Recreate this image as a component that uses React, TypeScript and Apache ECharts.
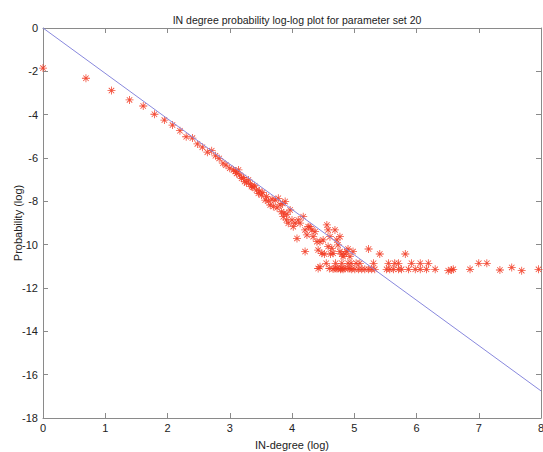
import React, { useEffect, useRef } from "react";
import * as echarts from "echarts";

const titleText = "IN degree probability log-log plot for parameter set 20";
const xAxisName = "IN-degree (log)";
const yAxisName = "Probability (log)";

// fitted reference line (log-log)
const fitLineX = [0, 8];
const fitLineY = [0, -16.75];

// measured points: x = ln(in-degree), y = ln(probability)
const inDegreeLog = [
  0, 0.69, 1.1, 1.39, 1.61, 1.79, 1.95, 2.08, 2.2, 2.3, 2.4, 2.48, 2.56, 2.64, 2.71, 2.77, 2.83, 2.89, 2.94, 3.0,
  3.06, 3.09, 3.11, 3.14, 3.16, 3.19, 3.22, 3.24, 3.27, 3.3, 3.33, 3.35, 3.37, 3.4, 3.43, 3.46, 3.48, 3.51, 3.53, 3.57,
  3.59, 3.62, 3.65, 3.68, 3.7, 3.73, 3.76, 3.78, 3.81, 3.83, 3.85, 3.86, 3.87, 3.89, 3.91, 3.92, 3.94, 3.97, 4.0, 4.02,
  4.05, 4.08, 4.1, 4.13, 4.18, 4.21, 4.21, 4.24, 4.26, 4.29, 4.32, 4.34, 4.37, 4.4, 4.42, 4.42, 4.45, 4.45, 4.48, 4.5,
  4.52, 4.55, 4.56, 4.58, 4.58, 4.6, 4.61, 4.62, 4.64, 4.66, 4.66, 4.69, 4.69, 4.7, 4.72, 4.72, 4.74, 4.74, 4.77, 4.77,
  4.78, 4.8, 4.8, 4.8, 4.82, 4.82, 4.85, 4.85, 4.88, 4.9, 4.9, 4.9, 4.93, 4.93, 4.95, 4.96, 4.98, 5.01, 5.03, 5.07,
  5.09, 5.12, 5.17, 5.23, 5.23, 5.28, 5.31, 5.33, 5.41, 5.52, 5.55, 5.57, 5.63, 5.65, 5.71, 5.71, 5.76, 5.82, 5.87, 5.92,
  5.98, 6.06, 6.06, 6.16, 6.19, 6.3, 6.51, 6.56, 6.59, 6.86, 7.0, 7.13, 7.34, 7.53, 7.69, 7.96,
];
const probabilityLog = [
  -1.85, -2.32, -2.89, -3.32, -3.6, -3.98, -4.25, -4.48, -4.74, -5.02, -5.08, -5.35, -5.5, -5.73, -5.66, -5.9, -6.02, -6.24, -6.33, -6.47,
  -6.55, -6.62, -6.71, -6.55, -6.78, -6.94, -6.9, -7.09, -7.15, -7.01, -7.2, -7.32, -7.35, -7.28, -7.48, -7.63, -7.52, -7.71, -7.6, -7.94,
  -7.78, -7.98, -8.17, -7.9, -8.24, -7.94, -8.3, -7.86, -8.17, -8.48, -8.1, -8.71, -8.55, -8.01, -8.86, -8.6, -9.01, -8.4, -8.86, -9.17,
  -9.0, -9.71, -8.86, -9.01, -8.71, -9.32, -10.32, -9.55, -9.17, -9.17, -9.32, -9.63, -9.4, -9.86, -10.25, -11.1, -11.02, -9.86, -10.4, -9.78,
  -10.43, -10.86, -9.09, -9.32, -10.09, -11.1, -9.63, -10.43, -10.17, -10.4, -11.12, -9.32, -11.1, -10.86, -9.78, -11.1, -10.01, -11.1, -10.32, -9.63,
  -11.14, -10.43, -10.86, -11.1, -10.55, -11.14, -10.43, -11.1, -10.32, -11.1, -10.86, -10.2, -10.55, -11.1, -10.86, -11.14, -10.32, -11.14, -10.86, -11.14,
  -10.86, -11.14, -11.14, -11.14, -10.2, -11.14, -10.86, -11.14, -10.43, -11.14, -10.86, -11.14, -11.14, -10.86, -10.86, -11.14, -11.14, -10.43, -11.14, -10.86,
  -11.14, -11.14, -10.86, -11.14, -10.86, -11.14, -11.2, -11.17, -11.14, -11.14, -10.86, -10.86, -11.17, -11.05, -11.2, -11.14,
];

const asteriskPath =
  "path://M9 0H11V20H9Z M0 9H20V11H0Z M2.5 3.9L3.9 2.5L17.5 16.1L16.1 17.5Z M16.1 2.5L17.5 3.9L3.9 17.5L2.5 16.1Z";

export default function App() {
  const ref = useRef<HTMLDivElement>(null);
  useEffect(() => {
    if (!ref.current) return;
    const chart = echarts.init(ref.current, null, { renderer: "svg" });
    const axisColor = "#8a8a8a";
    const labelStyle = { color: "#222", fontSize: 11, fontFamily: "Liberation Sans, Arial, sans-serif" };
    const baseX = {
      type: "value" as const,
      min: 0,
      max: 8,
      interval: 1,
      splitLine: { show: false },
      axisLine: { show: true, onZero: false, lineStyle: { color: axisColor, width: 1 } },
      axisTick: { show: true, inside: true, length: 5, lineStyle: { color: axisColor } },
    };
    const baseY = {
      type: "value" as const,
      min: -18,
      max: 0,
      interval: 2,
      splitLine: { show: false },
      axisLine: { show: true, onZero: false, lineStyle: { color: axisColor, width: 1 } },
      axisTick: { show: true, inside: true, length: 5, lineStyle: { color: axisColor } },
    };
    chart.setOption({
      animation: false,
      backgroundColor: "#ffffff",
      title: {
        text: titleText,
        left: 292,
        textAlign: "center",
        top: 9,
        textStyle: { fontSize: 10.5, fontWeight: "normal", color: "#222", fontFamily: "Liberation Sans, Arial, sans-serif" },
      },
      grid: { left: 43, right: 2, top: 28, bottom: 34, containLabel: false, outerBoundsMode: "none" },
      xAxis: [
        {
          ...baseX,
          position: "bottom",
          name: xAxisName,
          nameLocation: "middle",
          nameGap: 21,
          nameMoveOverlap: false,
          nameTextStyle: labelStyle,
          axisLabel: { ...labelStyle, margin: 4 },
        },
        { ...baseX, position: "top", axisLabel: { show: false } },
      ],
      yAxis: [
        {
          ...baseY,
          position: "left",
          name: yAxisName,
          nameLocation: "middle",
          nameGap: 20,
          nameMoveOverlap: false,
          nameTextStyle: labelStyle,
          axisLabel: { ...labelStyle, margin: 5 },
        },
        { ...baseY, position: "right", axisLabel: { show: false } },
      ],
      series: [
        {
          type: "line",
          data: fitLineX.map((x, i) => [x, fitLineY[i]]),
          showSymbol: false,
          symbol: "none",
          lineStyle: { color: "#8888dd", width: 1 },
          silent: true,
        },
        {
          type: "scatter",
          data: inDegreeLog.map((x, i) => [x, probabilityLog[i]]),
          symbol: asteriskPath,
          symbolSize: 8,
          itemStyle: { color: "#f23a22", opacity: 0.9 },
        },
      ],
    });
    return () => chart.dispose();
  }, []);
  return (
    <div
      ref={ref}
      style={{ position: "fixed", left: 0, top: 0, width: 543, height: 452, background: "#fff" }}
    />
  );
}
